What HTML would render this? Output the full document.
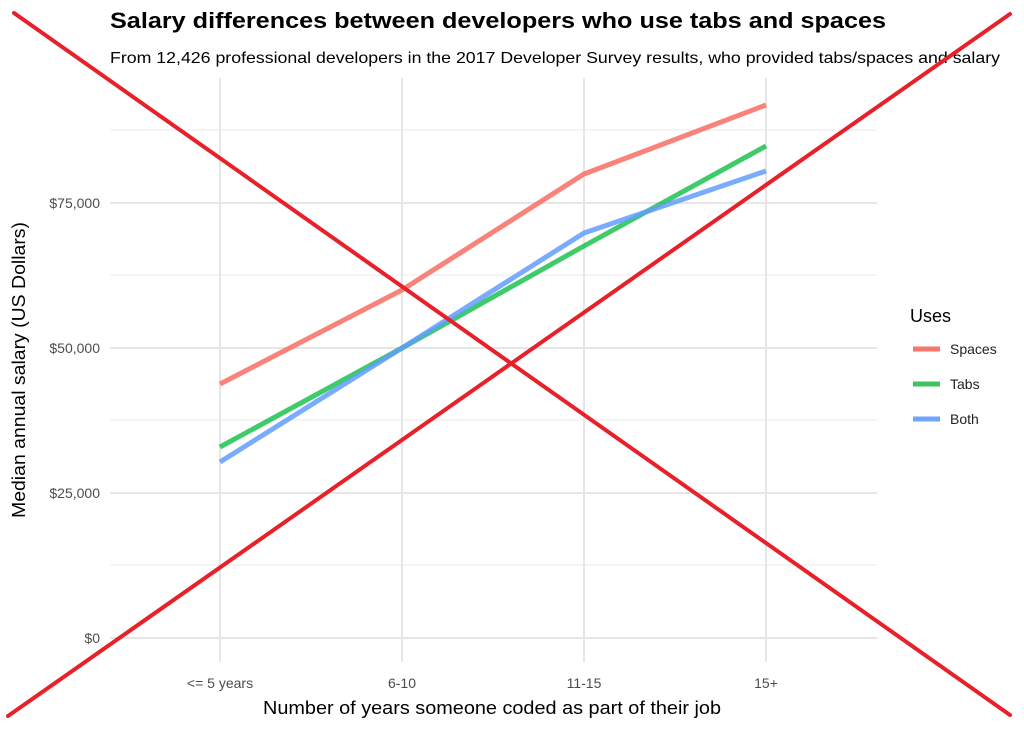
<!DOCTYPE html>
<html><head><meta charset="utf-8"><style>body{margin:0;background:#fff}svg{display:block}</style></head><body>
<svg width="1024" height="731" xmlns="http://www.w3.org/2000/svg" font-family="Liberation Sans, sans-serif">
<rect width="1024" height="731" fill="#fff"/>
<g stroke="#ebebeb" stroke-width="1">
<line x1="110" x2="877" y1="565" y2="565"/><line x1="110" x2="877" y1="420" y2="420"/><line x1="110" x2="877" y1="275" y2="275"/><line x1="110" x2="877" y1="130" y2="130"/>
</g>
<g stroke="#e6e6e6" stroke-width="2">
<line x1="110" x2="877" y1="638" y2="638"/><line x1="110" x2="877" y1="493" y2="493"/><line x1="110" x2="877" y1="348" y2="348"/><line x1="110" x2="877" y1="203" y2="203"/>
<line x1="220" x2="220" y1="78" y2="662"/><line x1="402" x2="402" y1="78" y2="662"/><line x1="584" x2="584" y1="78" y2="662"/><line x1="766" x2="766" y1="78" y2="662"/>
</g>
<g fill="none" stroke-width="5" stroke-opacity="0.9">
<polyline stroke="#f8766d" points="220,384 402,290 584,174 766,105"/>
<polyline stroke="#00ba38" stroke-opacity="0.75" points="220,447 402,348 584,246 766,146"/>
<polyline stroke="#619cff" stroke-opacity="0.85" points="220,462 402,348 584,233 766,171"/>
</g>
<g font-size="14" fill="#4d4d4d" text-anchor="end">
<text x="100" y="643">$0</text><text x="100" y="498">$25,000</text><text x="100" y="353">$50,000</text><text x="100" y="208">$75,000</text>
</g>
<g font-size="14" fill="#4d4d4d" text-anchor="middle">
<text x="220" y="688">&lt;= 5 years</text><text x="402" y="688">6-10</text><text x="584" y="688">11-15</text><text x="766" y="688">15+</text>
</g>
<text x="492" y="714" font-size="18" text-anchor="middle" textLength="458" lengthAdjust="spacingAndGlyphs">Number of years someone coded as part of their job</text>
<text transform="translate(25,370) rotate(-90)" font-size="18" text-anchor="middle" textLength="296" lengthAdjust="spacingAndGlyphs">Median annual salary (US Dollars)</text>
<text x="110" y="28" font-size="22" font-weight="bold" textLength="776" lengthAdjust="spacingAndGlyphs">Salary differences between developers who use tabs and spaces</text>
<text x="110" y="63" font-size="16" textLength="890" lengthAdjust="spacingAndGlyphs">From 12,426 professional developers in the 2017 Developer Survey results, who provided tabs/spaces and salary</text>
<text x="910" y="322" font-size="18">Uses</text>
<g stroke-width="5"><line x1="913" x2="940" y1="349" y2="349" stroke="#f8766d"/><line x1="913" x2="940" y1="384" y2="384" stroke="#3fc35f"/><line x1="913" x2="940" y1="419" y2="419" stroke="#6fa4ff"/></g>
<g font-size="14" fill="#222"><text x="950" y="354">Spaces</text><text x="950" y="389">Tabs</text><text x="950" y="424">Both</text></g>
<g stroke="#e8202a" stroke-width="4" stroke-linecap="round">
<line x1="14" y1="13" x2="1010" y2="715"/><line x1="8" y1="716" x2="1010" y2="14"/>
</g>
</svg>
</body></html>
